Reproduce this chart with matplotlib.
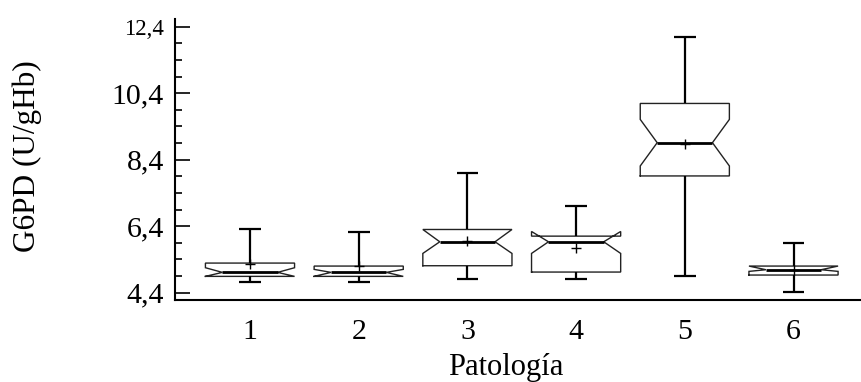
import matplotlib.pyplot as plt
from matplotlib.ticker import FixedLocator

plt.rcParams['font.family'] = ['Liberation Serif', 'DejaVu Serif']

# values (G6PD, U/gHb)
categories = ['1', '2', '3', '4', '5', '6']
whislo = [4.73, 4.72, 4.81, 4.80, 4.91, 4.43]
q1 = [4.89, 4.89, 5.21, 5.02, 7.91, 4.93]
cilo = [4.89, 4.89, 5.58, 5.58, 8.21, 5.04]
med = [5.01, 5.01, 5.93, 5.93, 8.91, 5.09]
cihi = [5.15, 5.10, 6.30, 6.24, 9.61, 5.20]
q3 = [5.29, 5.20, 6.30, 6.10, 10.09, 5.20]
whishi = [6.30, 6.21, 8.00, 7.02, 12.10, 5.90]
means = [5.25, 5.19, 5.95, 5.73, 8.86, 5.09]

yticks = [4.4, 6.4, 8.4, 10.4, 12.4]
ytick_labels = ['4,4', '6,4', '8,4', '10,4', '12,4']

fig = plt.figure(figsize=(8.62, 3.82), dpi=100)
ax = fig.add_axes([0.203, 0.2147, 0.797, 0.7356])

hw = 0.41          # half box width
nw = hw * 0.62     # half notch waist
cw = 0.10          # half cap width

for i in range(len(categories)):
    p = i + 1
    bx = [p - hw, p + hw, p + hw, p + nw, p + hw, p + hw, p - hw, p - hw, p - nw, p - hw, p - hw]
    by = [q1[i], q1[i], cilo[i], med[i], cihi[i], q3[i], q3[i], cihi[i], med[i], cilo[i], q1[i]]
    ax.plot(bx, by, color='#222222', lw=1.0, solid_joinstyle='miter')
    ax.plot([p - nw, p + nw], [med[i], med[i]], color='black', lw=2.0, solid_capstyle='butt')
    ax.vlines(p, q3[i], whishi[i], color='black', lw=1.6)
    ax.vlines(p, whislo[i], q1[i], color='black', lw=1.6)
    ax.hlines([whishi[i], whislo[i]], p - cw, p + cw, color='black', lw=1.6)
    ax.plot(p, means[i], marker='+', color='black', ms=7, mew=1.0)

ax.set_xlim(0.31, 6.63)
ax.set_ylim(4.18, 12.63)

ax.spines['top'].set_visible(False)
ax.spines['right'].set_visible(False)
ax.spines['left'].set_linewidth(1.5)
ax.spines['bottom'].set_linewidth(1.5)

ax.set_xticks(range(1, len(categories) + 1))
ax.set_xticklabels(categories, fontsize=21.5)
ax.tick_params(axis='x', length=0, pad=14)

ax.yaxis.set_major_locator(FixedLocator(yticks))
ax.yaxis.set_minor_locator(FixedLocator([y + d for y in yticks[:-1] for d in (0.5, 1.0, 1.5)]))
ax.set_yticklabels(ytick_labels, fontsize=21.5)
ax.get_yticklabels()[-1].set_fontsize(16.5)
ax.tick_params(axis='y', which='major', direction='in', length=10.5, width=1.2, pad=8)
ax.tick_params(axis='y', which='minor', direction='in', length=5, width=1.2)

ax.set_ylabel('G6PD (U/gHb)', fontsize=22.5)
ax.yaxis.set_label_coords(-0.194, 0.511)
ax.set_xlabel('Patología', fontsize=22)
ax.xaxis.set_label_coords(0.482, -0.188)

fig.savefig('out.png', dpi=100)
